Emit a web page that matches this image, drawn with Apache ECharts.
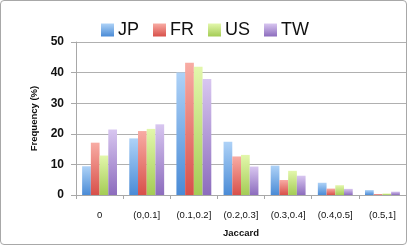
<!DOCTYPE html>
<html><head><meta charset="utf-8">
<script src="https://cdn.jsdelivr.net/npm/echarts@6/dist/echarts.min.js"></script>
<style>
html,body{margin:0;padding:0;background:#fff;}
#c{position:absolute;left:0;top:0;width:405px;height:243px;border:1px solid #a8a8a8;border-radius:4px;}
</style></head>
<body><div id="c"></div>
<script>
const categories = ['0','(0,0.1]','(0.1,0.2]','(0.2,0.3]','(0.3,0.4]','(0.4,0.5]','(0.5,1]'];
const seriesNames = ['JP','FR','US','TW'];
const JP = [9.4, 18.5, 40.0, 17.4, 9.6, 4.0, 1.6];
const FR = [17.1, 20.9, 43.2, 12.6, 4.9, 2.1, 0.3];
const US = [12.9, 21.6, 41.9, 13.1, 7.9, 3.2, 0.5];
const TW = [21.4, 23.1, 37.9, 9.3, 6.3, 2.0, 1.1];
const yTicks = [0,10,20,30,40,50];

const colorStops = {
  JP: ['#aed2f7', '#4a8bd6'],
  FR: ['#f8aca4', '#d8504a'],
  US: ['#e3f7ac', '#a4cc55'],
  TW: ['#d8c6f0', '#8c6cbd']
};
function grad(n){
  return new echarts.graphic.LinearGradient(0,0,0,1,[{offset:0,color:colorStops[n][0]},{offset:1,color:colorStops[n][1]}]);
}
const dataMap = {JP, FR, US, TW};
const chart = echarts.init(document.getElementById('c'));
chart.setOption({
  animation:false,
  textStyle:{fontFamily:'Liberation Sans'},
  legend:{
    top:15, left:95, itemWidth:13, itemHeight:13, itemGap:14,
    icon:'rect',
    textStyle:{fontSize:18, color:'#111', fontFamily:'Liberation Sans', padding:[0,0,0,-1]},
    data: seriesNames.map(n=>({name:n, itemStyle:{color:grad(n)}}))
  },
  grid:{left:75, right:0, top:41, bottom:49, containLabel:false},
  xAxis:{
    type:'category', data:categories,
    name:'Jaccard', nameLocation:'middle', nameGap:33,
    nameTextStyle:{fontSize:9.5, fontWeight:'bold', color:'#111'},
    axisLine:{lineStyle:{color:'#a8a8a8'}},
    axisTick:{show:true, length:4, lineStyle:{color:'#a8a8a8'}},
    axisLabel:{fontSize:9.5, color:'#111', margin:15}
  },
  yAxis:{
    type:'value', min:yTicks[0], max:yTicks[yTicks.length-1], interval:10,
    name:'Frequency (%)', nameLocation:'middle', nameGap:31, nameRotate:90,
    nameTextStyle:{fontSize:9.5, fontWeight:'bold', color:'#111'},
    axisLine:{show:true, lineStyle:{color:'#a8a8a8'}},
    axisTick:{show:true, length:5, lineStyle:{color:'#a8a8a8'}},
    axisLabel:{fontSize:12, fontWeight:'bold', color:'#111', margin:12},
    splitLine:{lineStyle:{color:'#b0b0b0'}}
  },
  series: seriesNames.map(n=>({
    name:n, type:'bar', data:dataMap[n],
    barGap:'0%', barCategoryGap:'26%',
    itemStyle:{color:grad(n)}
  }))
});
</script></body></html>
